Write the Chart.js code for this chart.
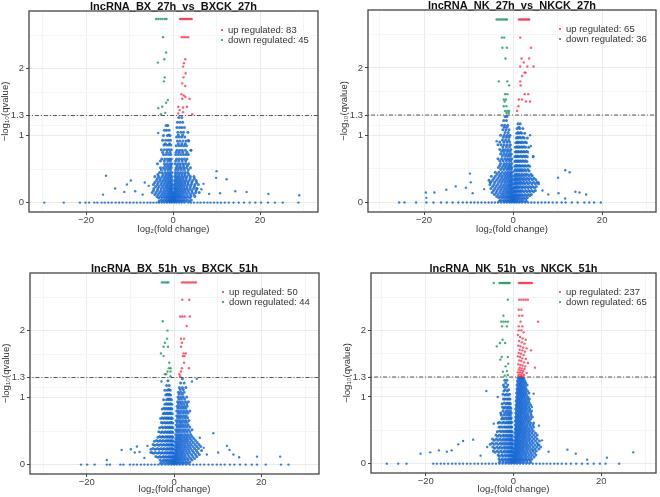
<!DOCTYPE html>
<html>
<head>
<meta charset="utf-8">
<script src="https://cdn.jsdelivr.net/npm/chart.js@4/dist/chart.umd.min.js"></script>
<style>
  body { margin: 0; background: #fff; width: 660px; height: 497px; position: relative; overflow: hidden; }
  .box { position: absolute; width: 330px; height: 248px; }
</style>
</head>
<body>
<div class="box" style="left:0;top:0"><canvas id="c1" width="330" height="248"></canvas></div>
<div class="box" style="left:330px;top:0"><canvas id="c2" width="330" height="248"></canvas></div>
<div class="box" style="left:0;top:250px"><canvas id="c3" width="330" height="248"></canvas></div>
<div class="box" style="left:330px;top:250px"><canvas id="c4" width="330" height="248"></canvas></div>
<script>
// titles, counts, tick labels
const titles = ['lncRNA_BX_27h_vs_BXCK_27h', 'lncRNA_NK_27h_vs_NKCK_27h', 'lncRNA_BX_51h_vs_BXCK_51h', 'lncRNA_NK_51h_vs_NKCK_51h'];
const upCounts = [83, 65, 50, 237];
const downCounts = [45, 36, 44, 65];
const yTicks = [0, 1, 1.3, 2];
const xTicks = [-20, 0, 20];
const qCut = 1.3;

// ---- BX 27h ----  (pairs x,y)
const bx27Up = [1.6,2.74, 1.9,2.74, 2.2,2.74, 2.5,2.74, 2.8,2.74, 3.1,2.74, 3.4,2.74, 3.7,2.74, 4.0,2.74, 4.3,2.74,
  2.0,2.47, 2.5,2.47, 3.0,2.47, 3.5,2.47, 2.8,2.14, 2.5,2.08, 2.3,2.03, 2.9,1.93, 2.4,1.87, 2.1,1.78, 2.8,1.74,
  1.9,1.62, 2.4,1.6, 2.1,1.55, 2.8,1.58, 3.8,1.55, 1.2,1.43, 2.3,1.42, 3.2,1.43, 1.5,1.38, 2.3,1.35, 4.4,1.32, 1.2,1.33];
const bx27Down = [-3.9,2.74, -3.4,2.74, -2.9,2.74, -2.4,2.74, -1.9,2.74, -1.5,2.74, -2.3,2.47, -1.6,2.24, -2.0,2.14,
  -3.5,2.09, -1.9,1.87, -2.1,1.81, -1.2,1.53, -1.6,1.49, -2.5,1.43, -3.4,1.41, -1.8,1.34, -2.8,1.32];
// rows of non-significant points: [y, [x...]]
const bx27Rows = [
  [1.27,[1.3,2.0]], [1.2,[1.0,1.6,2.2]], [1.12,[0.9,1.5,2.0,2.6]], [1.05,[1.1,1.8,2.4,3.4]], [0.98,[0.8,1.4,2.0,2.7]],
  [0.92,[1.0,1.6,2.3,3.0,3.6]], [0.85,[0.7,1.3,1.9,2.5,3.1]], [0.78,[0.9,1.5,2.1,2.8,4.1]], [0.72,[0.6,1.2,1.8,2.4,3.0,3.5]],
  [0.65,[0.8,1.4,2.0,2.6,3.2]], [0.58,[0.5,1.1,1.7,2.3,2.9,3.6]], [0.52,[0.7,1.3,1.9,2.5,3.1,4.0]], [0.45,[0.5,1.0,1.6,2.2,2.8,3.4]],
  [0.39,[0.4,0.9,1.4,2.0,2.6,3.2,4.0,4.8]], [0.33,[0.4,0.8,1.3,1.8,2.4,3.0,3.7,4.5,5.3]], [0.27,[0.3,0.7,1.2,1.7,2.2,2.8,3.5,4.2,5.0,5.8]],
  [0.21,[0.3,0.6,1.0,1.5,2.0,2.6,3.2,3.9,4.7,5.5]], [0.15,[0.2,0.5,0.9,1.3,1.8,2.3,2.9,3.6,4.4,5.2,6.0]],
  [0.09,[0.2,0.4,0.8,1.2,1.6,2.1,2.7,3.4,4.1,5.0]], [0.04,[0.1,0.3,0.6,1.0,1.5,2.0,2.6,3.3,4.2]],
  [1.15,[-1.2,-1.6]], [1.08,[-0.9,-1.5,-2.0]], [1.0,[-0.7,-1.3,-2.2]], [0.93,[-0.6,-1.1,-1.7,-2.4]], [0.86,[-0.5,-1.0,-1.5,-2.1]],
  [0.79,[-0.4,-0.9,-1.4,-2.0,-2.7]], [0.72,[-0.5,-1.0,-1.6,-2.2]], [0.65,[-0.4,-0.8,-1.3,-1.9,-2.6]], [0.58,[-0.3,-0.8,-1.4,-2.0,-3.6]],
  [0.52,[-0.4,-0.9,-1.5,-2.2,-2.9]], [0.45,[-0.3,-0.7,-1.2,-1.8,-2.5,-3.1]], [0.39,[-0.3,-0.7,-1.2,-1.8,-2.5,-3.3,-4.2]],
  [0.33,[-0.2,-0.6,-1.1,-1.7,-2.3,-3.0,-3.8]], [0.27,[-0.2,-0.5,-1.0,-1.5,-2.1,-2.8,-3.6,-4.5]], [0.21,[-0.2,-0.5,-0.9,-1.4,-2.0,-2.7,-3.5,-4.4]],
  [0.15,[-0.1,-0.4,-0.8,-1.2,-1.8,-2.4,-3.1,-3.9,-4.8]], [0.09,[-0.1,-0.4,-0.7,-1.1,-1.6,-2.2,-2.9,-3.7]], [0.04,[-0.1,-0.3,-0.6,-1.0,-1.5,-2.1,-2.8]]
];
const bx27Rows2 = [
  [1.01,[1.2,2.2,-1.0]], [0.88,[1.2,2.0,2.8,-0.8,-1.8]], [0.75,[0.7,1.4,2.2,3.2,-0.7,-1.4,-2.4]],
  [0.62,[0.6,1.3,2.1,2.9,-0.6,-1.2,-2.0,-2.9]], [0.55,[0.9,1.6,2.4,3.3,-0.5,-1.1,-1.8]],
  [0.49,[0.6,1.2,1.9,2.6,3.5,-0.6,-1.2,-1.9,-2.7]], [0.42,[0.6,1.3,2.0,2.7,3.6,-0.5,-1.0,-1.6,-2.3,-3.5]],
  [0.36,[0.6,1.1,1.7,2.3,3.0,3.9,4.9,-0.4,-0.9,-1.5,-2.1,-2.9,-3.6]],
  [0.30,[0.5,1.0,1.5,2.1,2.7,3.4,4.3,5.4,-0.4,-0.8,-1.3,-1.9,-2.6,-3.4,-4.2]],
  [0.24,[0.4,0.9,1.4,1.9,2.5,3.2,4.0,4.9,-0.3,-0.7,-1.2,-1.7,-2.4,-3.2,-4.0]],
  [0.18,[0.4,0.8,1.2,1.7,2.2,2.8,3.5,4.3,5.3,-0.3,-0.6,-1.0,-1.5,-2.1,-2.8,-3.6,-4.5]],
  [0.12,[0.3,0.6,1.0,1.4,1.9,2.5,3.2,4.0,4.8,-0.2,-0.5,-0.9,-1.4,-2.0,-2.6,-3.4,-4.2]],
  [0.07,[0.2,0.5,0.8,1.3,1.8,2.4,3.0,3.8,-0.2,-0.5,-0.9,-1.3,-1.8,-2.5,-3.3]],
  [0.02,[0,0.2,0.4,0.8,1.2,1.7,2.3,3.0,3.8,-0.2,-0.4,-0.8,-1.2,-1.7,-2.4,-3.2]]
];
const bx27Out = [-15.4,0.4, -9.7,0.33, -10.6,0.27, -16.1,0.12, -13.3,0.21, -8.7,0.17, -11.2,0.16, 10,0.47, 12.3,0.35, 14.3,0.17,
  16.9,0.16, 10.8,0.14, 8.3,0.13, 21.9,0.13, 29.0,0.11, 5.4,0.21, -3.4,1.04, 3.5,0.93, 4.1,0.78, -6.5,0.3, -5.6,0.25, 6.5,0.2,
  7.0,0.28, -7.0,0.12, 9.9,0.37];
const bx27Zero = [-29.6,-25.1,-21.4,-20.1,-19.3,-18.1,-17.4,-16.4,-15.7,-14.9,-14.1,-13.2,-12.4,-11.6,-10.7,-9.9,-9.1,-8.3,-7.5,-6.7,
  -5.9,-5.2,-4.5,-3.8,-3.2,-2.6,-2.0,-1.4,-0.8,-0.3,0.3,0.8,1.4,2.0,2.6,3.5,4.1,4.8,5.6,6.3,7.1,7.9,8.6,9.4,10.2,11.0,11.9,12.8,
  13.9,15.1,16.3,17.6,18.9,20.2,21.8,23.4,25.2,28.8];

// ---- NK 27h ----
const nk27Up = [1.3,2.72, 1.6,2.72, 1.9,2.72, 2.2,2.72, 2.5,2.72, 2.8,2.72, 3.1,2.72, 3.4,2.72, 3.6,2.72, 1.6,2.45, 4.0,2.3,
  1.9,2.14, 3.6,2.14, 2.4,2.08, 1.6,2.02, 3.2,2.02, 4.6,2.02, 2.6,1.93, 2.8,1.93, 2.0,1.88, 1.6,1.8, 1.7,1.74, 2.6,1.61,
  3.4,1.61, 1.3,1.53, 2.0,1.53, 2.9,1.5, 3.8,1.5, 1.2,1.43, 0.9,1.36];
const nk27Down = [-3.7,2.72, -3.3,2.72, -2.9,2.72, -2.5,2.72, -2.1,2.72, -1.7,2.72, -1.4,2.72, -2.5,2.45, -2.0,2.45, -2.4,2.3,
  -1.4,2.3, -1.7,2.14, -3.2,1.8, -1.3,1.8, -0.9,1.74, -1.8,1.61, -1.3,1.61, -2.1,1.53, -1.6,1.53, -1.9,1.5, -2.1,1.43, -1.5,1.43,
  -1.8,1.36, -1.3,1.36, -0.9,1.36, -1.5,1.33, -1.0,1.33];
const nk27Rows = [
  [1.28,[-1.8,-1.4]], [1.22,[-2.1,-1.5]], [1.15,[-1.9,-1.2,-2.5]], [1.08,[-1.6,-0.9,-2.3]], [1.0,[-1.3,-2.0,-0.7,-2.8]],
  [0.93,[-1.0,-1.7,-2.4]], [0.86,[-0.6,-1.3,-2.0,-2.7,-3.4]], [0.79,[-0.5,-1.1,-1.7,-2.3,-3.0]], [0.72,[-0.4,-0.9,-1.5,-2.1,-2.8]],
  [0.65,[-0.3,-0.8,-1.3,-1.9,-2.6,-3.4]], [0.58,[-0.3,-0.8,-1.4,-2.0,-2.8]], [0.52,[-0.3,-0.7,-1.2,-1.8,-2.5,-3.3]],
  [0.45,[-0.2,-0.6,-1.1,-1.7,-2.4,-3.2,-4.0]], [0.39,[-0.2,-0.6,-1.1,-1.7,-2.4,-3.1,-4.0,-4.9]], [0.33,[-0.2,-0.5,-1.0,-1.6,-2.2,-2.9,-3.7,-4.6,-5.4]],
  [0.27,[-0.2,-0.5,-0.9,-1.4,-2.0,-2.7,-3.5,-4.3,-5.2]], [0.21,[-0.1,-0.4,-0.8,-1.3,-1.9,-2.6,-3.3,-4.1,-5.0]],
  [0.15,[-0.1,-0.4,-0.8,-1.2,-1.7,-2.3,-3.0,-3.8,-4.7]], [0.09,[-0.1,-0.3,-0.7,-1.1,-1.6,-2.2,-2.9,-3.7]], [0.04,[-0.1,-0.3,-0.6,-1.0,-1.5,-2.1,-2.8]],
  [1.17,[1.6,1.1]], [1.1,[0.9,1.5,2.2]], [1.03,[0.8,1.3,1.9,2.6]], [0.96,[0.7,1.2,1.8,2.5,3.2]], [0.89,[0.6,1.1,1.7,2.3,3.0]],
  [0.82,[0.5,1.0,1.5,2.1,2.8,3.5]], [0.75,[0.5,1.0,1.5,2.0,2.6,3.3]], [0.68,[0.4,0.9,1.4,2.0,2.6,3.2,4.5]], [0.61,[0.4,0.9,1.4,1.9,2.5,3.1]],
  [0.54,[0.4,0.8,1.3,1.8,2.4,3.0,3.7]], [0.47,[0.3,0.8,1.3,1.8,2.3,2.9,3.6]], [0.40,[0.3,0.7,1.2,1.7,2.3,2.9,3.6,4.3]],
  [0.34,[0.3,0.7,1.1,1.6,2.2,2.8,3.5,4.3,5.1]], [0.28,[0.2,0.6,1.0,1.5,2.1,2.7,3.4,4.2,5.0,5.7]], [0.22,[0.2,0.5,0.9,1.4,2.0,2.6,3.3,4.0,4.8]],
  [0.16,[0.2,0.5,0.9,1.3,1.8,2.4,3.1,3.8,4.6]], [0.10,[0.1,0.4,0.8,1.2,1.7,2.3,3.0,3.7]], [0.05,[0.1,0.3,0.6,1.0,1.5,2.1,2.8]]
];
const nk27Rows2 = [
  [1.12,[-1.4,-2.0,1.3]], [1.04,[-1.1,-1.8,1.1,1.7]], [0.97,[-0.9,-1.5,-2.2,1.0,1.5,2.2]],
  [0.90,[-0.8,-1.4,-2.1,-3.0,0.9,1.4,2.0,2.7]], [0.83,[-0.8,-1.5,-2.3,0.8,1.3,1.9,2.5]],
  [0.76,[-0.7,-1.3,-2.0,-2.6,0.7,1.2,1.8,2.4,3.0]], [0.69,[-0.6,-1.1,-1.7,-2.4,0.6,1.1,1.7,2.3,2.9]],
  [0.62,[-0.5,-1.0,-1.6,-2.3,-3.0,0.6,1.1,1.6,2.2,2.8]], [0.55,[-0.5,-1.0,-1.6,-2.2,-3.0,0.6,1.0,1.5,2.1,2.7,3.4]],
  [0.49,[-0.4,-0.9,-1.4,-2.1,-2.8,0.5,1.0,1.5,2.0,2.6,3.3]], [0.42,[-0.4,-0.8,-1.4,-2.0,-2.8,-3.6,0.5,0.9,1.4,2.0,2.6,3.2,4.0]],
  [0.36,[-0.3,-0.8,-1.3,-1.9,-2.6,-3.4,-4.3,0.4,0.9,1.4,1.9,2.5,3.2,3.9,4.7]],
  [0.30,[-0.3,-0.7,-1.2,-1.8,-2.5,-3.2,-4.1,-5.0,0.4,0.8,1.3,1.8,2.4,3.1,3.8,4.6,5.4]],
  [0.24,[-0.3,-0.7,-1.1,-1.7,-2.3,-3.0,-3.8,-4.6,0.4,0.8,1.2,1.7,2.3,3.0,3.7,4.4,5.2]],
  [0.18,[-0.2,-0.6,-1.0,-1.5,-2.1,-2.8,-3.6,-4.4,0.3,0.7,1.1,1.6,2.1,2.8,3.5,4.2,5.0]],
  [0.12,[-0.2,-0.5,-0.9,-1.4,-2.0,-2.6,-3.4,-4.2,0.3,0.6,1.0,1.5,2.0,2.7,3.4,4.1]],
  [0.07,[-0.2,-0.5,-0.9,-1.3,-1.9,-2.5,-3.2,0.2,0.5,0.9,1.3,1.9,2.5,3.2]],
  [0.02,[-0.2,-0.4,-0.8,-1.2,-1.7,-2.3,-3.1,0,0.2,0.4,0.8,1.2,1.7,2.3,3.0]]
];
const nk27Out = [-3.7,0.91, 4.5,0.69, 4.0,0.84, -5.2,0.3, 5.7,0.3, -9.7,0.43, -9.5,0.3, -10.6,0.22, -12.9,0.24, -15.0,0.19,
  -17.7,0.15, -19.6,0.15, -19.5,0.07, -9.1,0.14, 11.7,0.48, 12.7,0.45, 10.1,0.37, 7.9,0.12, 10.2,0.14, 14.0,0.16, 14.9,0.15,
  16.4,0.12, 11.7,0.06, -6.5,0.2, 6.6,0.18, 3.8,1.0];
const nk27Zero = [-25.6,-24.4,-21.8,-19.5,-17.9,-16.2,-14.9,-13.6,-12.3,-11.3,-10.4,-9.5,-8.7,-7.9,-7.1,-6.3,-5.5,-4.8,-4.1,-3.4,
  -2.7,-2.0,-1.4,-0.8,-0.3,0.3,0.8,1.4,2.0,2.7,3.4,4.1,4.8,5.6,6.4,7.2,8.0,8.9,9.8,10.9,11.8,13.2,14.5,16.0,17.1,18.2,19.7];

// ---- BX 51h ----
const bx51Up = [1.8,2.72, 2.2,2.72, 2.6,2.72, 3.0,2.72, 3.4,2.72, 3.8,2.72, 4.2,2.72, 4.6,2.72, 5.0,2.72, 1.9,2.46, 3.5,2.46,
  1.4,2.21, 1.9,2.21, 2.4,2.21, 3.6,2.21, 2.9,2.07, 1.6,1.88, 2.3,1.88, 1.8,1.82, 1.6,1.76, 2.2,1.66, 2.7,1.66, 2.0,1.62,
  2.4,1.62, 2.3,1.52, 1.8,1.44, 3.4,1.44, 1.6,1.39, 1.2,1.35, 1.4,1.32];
const bx51Down = [-2.8,2.72, -2.4,2.72, -2.0,2.72, -1.6,2.72, -1.3,2.72, -2.6,2.14, -1.5,2.0, -1.6,1.88, -2.1,1.82, -2.4,1.76,
  -1.4,1.76, -3.0,1.66, -2.4,1.62, -1.1,1.52, -1.2,1.44, -0.8,1.44, -1.5,1.39, -0.8,1.39, -2.1,1.35, -1.8,1.35, -0.8,1.32];
const bx51Rows = [
  [1.28,[1.9]], [1.22,[1.5,2.3]], [1.15,[1.2,1.9,2.7]], [1.08,[1.0,1.6,2.3]], [1.01,[0.9,1.5,2.1,2.9]], [0.94,[0.8,1.3,1.9,2.6,3.3]],
  [0.87,[0.7,1.2,1.8,2.4,3.0]], [0.80,[0.6,1.1,1.7,2.3,2.9,3.6]], [0.73,[0.6,1.1,1.6,2.2,2.8]], [0.66,[0.5,1.0,1.5,2.1,2.7,3.4]],
  [0.59,[0.5,1.0,1.5,2.0,2.6,3.2]], [0.52,[0.4,0.9,1.4,2.0,2.6,3.3,4.1]], [0.45,[0.4,0.9,1.4,1.9,2.5,3.1,3.8]],
  [0.39,[0.4,0.8,1.3,1.8,2.4,3.0,3.7,4.5]], [0.33,[0.3,0.7,1.2,1.7,2.3,2.9,3.6,4.4,5.3]], [0.27,[0.3,0.7,1.1,1.6,2.2,2.8,3.5,4.3,5.2,6.1]],
  [0.21,[0.3,0.6,1.0,1.5,2.1,2.7,3.4,4.2,5.1,6.3]], [0.15,[0.2,0.5,0.9,1.4,1.9,2.5,3.2,4.0,4.9,5.8]],
  [0.09,[0.2,0.4,0.8,1.2,1.7,2.3,3.0,3.8,4.7]], [0.04,[0.1,0.3,0.6,1.0,1.5,2.1,2.8,3.6]],
  [1.25,[-1.4]], [1.18,[-1.1,-1.7]], [1.11,[-0.9,-1.5,-2.1]], [1.04,[-0.8,-1.3,-1.9]], [0.97,[-0.6,-1.1,-1.7,-2.4]],
  [0.90,[-0.5,-1.0,-1.5,-2.1]], [0.83,[-0.5,-0.9,-1.4,-2.0,-2.7]], [0.76,[-0.4,-0.9,-1.4,-1.9,-2.5]], [0.69,[-0.4,-0.8,-1.3,-1.8,-2.4,-3.1]],
  [0.62,[-0.3,-0.8,-1.3,-1.9,-2.6]], [0.55,[-0.3,-0.7,-1.2,-1.8,-2.5,-3.3]], [0.48,[-0.3,-0.7,-1.2,-1.7,-2.3,-3.0]],
  [0.41,[-0.3,-0.6,-1.1,-1.6,-2.2,-2.9,-3.7]], [0.35,[-0.2,-0.6,-1.0,-1.5,-2.1,-2.8,-3.6,-4.5]], [0.29,[-0.2,-0.5,-0.9,-1.4,-2.0,-2.7,-3.5,-4.4]],
  [0.23,[-0.2,-0.5,-0.9,-1.4,-1.9,-2.6,-3.4,-4.3,-5.3]], [0.17,[-0.1,-0.4,-0.8,-1.2,-1.7,-2.3,-3.0,-3.8,-4.7]],
  [0.11,[-0.1,-0.4,-0.7,-1.1,-1.6,-2.2,-2.9,-3.7]], [0.05,[-0.1,-0.3,-0.6,-1.0,-1.5,-2.1,-2.8]]
];
const bx51Rows2 = [
  [1.12,[1.4,2.1,-1.2]], [1.05,[1.2,1.9,-1.1,-1.6]], [0.98,[1.1,1.7,2.4,-0.9,-1.4]], [0.91,[1.0,1.6,2.2,2.9,-0.8,-1.3,-1.8]],
  [0.84,[0.9,1.5,2.1,2.7,-0.7,-1.2,-1.7,-2.3]], [0.77,[0.9,1.4,2.0,2.6,3.2,-0.7,-1.1,-1.6,-2.2]],
  [0.70,[0.8,1.3,1.9,2.5,3.1,-0.6,-1.1,-1.6,-2.1,-2.7]], [0.63,[0.7,1.3,1.8,2.4,3.0,-0.6,-1.0,-1.6,-2.2,-2.9]],
  [0.56,[0.7,1.2,1.7,2.3,2.9,3.6,-0.5,-1.0,-1.5,-2.1,-2.8]], [0.49,[0.6,1.1,1.7,2.3,2.9,3.6,-0.5,-0.9,-1.4,-2.0,-2.7,-3.5]],
  [0.42,[0.6,1.1,1.6,2.2,2.8,3.4,4.1,-0.4,-0.9,-1.4,-1.9,-2.6,-3.3]],
  [0.36,[0.5,1.0,1.5,2.0,2.6,3.2,4.0,4.9,-0.4,-0.8,-1.3,-1.8,-2.5,-3.2,-4.0]],
  [0.30,[0.5,0.9,1.4,1.9,2.5,3.2,3.9,4.8,5.7,-0.4,-0.7,-1.2,-1.7,-2.4,-3.1,-3.9,-4.8]],
  [0.24,[0.4,0.8,1.3,1.8,2.4,3.1,3.8,4.7,5.6,-0.3,-0.7,-1.1,-1.6,-2.3,-3.0,-3.8,-4.8]],
  [0.18,[0.4,0.7,1.2,1.7,2.2,2.9,3.6,4.5,5.4,-0.3,-0.6,-1.0,-1.5,-2.0,-2.7,-3.4,-4.3,-5.1]],
  [0.12,[0.3,0.6,1.0,1.5,2.0,2.6,3.4,4.3,5.2,-0.2,-0.5,-0.9,-1.3,-1.9,-2.5,-3.3,-4.2]],
  [0.07,[0.2,0.5,0.9,1.3,1.9,2.5,3.2,4.1,-0.2,-0.5,-0.8,-1.3,-1.8,-2.4,-3.2]],
  [0.02,[0,0.2,0.4,0.8,1.2,1.8,2.4,3.2,-0.2,-0.4,-0.8,-1.2,-1.7,-2.4,-3.1]]
];
const bx51Out = [5.2,1.28, 4.1,1.24, -2.9,1.24, 9.0,0.47, 12.1,0.28, 12.7,0.22, 10.1,0.18, 13.6,0.15, 14.9,0.11, 19.0,0.12,
  24.3,0.12, -12.0,0.22, -9.9,0.23, -9.0,0.18, -15.4,0.07, -7.9,0.19, -6.1,0.28, -8.5,0.27, -6.8,0.1, -5.4,0.18, 6.8,0.25,
  7.5,0.15, 5.9,0.4];
const bx51Zero = [-21.3,-19.9,-18.2,-15.4,-14.7,-12.3,-11.6,-10.1,-9.3,-8.5,-7.6,-6.8,-6.0,-5.2,-4.4,-3.6,-2.8,-2.0,-1.3,-0.6,0,
  0.6,1.3,2.0,2.8,3.6,4.4,5.2,6.0,6.9,7.9,8.8,9.8,10.7,11.6,12.8,13.8,15.1,16.4,17.8,19.0,21.0,24.5,26.2];

// ---- NK 51h ----
const nk51Up = [1.2,2.71, 1.5,2.71, 1.8,2.71, 2.1,2.71, 2.4,2.71, 2.7,2.71, 3.0,2.71, 3.3,2.71, 3.6,2.71, 3.9,2.71, 4.2,2.71,
  1.3,2.46, 1.8,2.46, 2.3,2.46, 2.8,2.46, 3.3,2.46, 1.2,2.31, 1.8,2.31, 1.3,2.22, 2.0,2.22, 1.6,2.13, 5.6,2.13, 1.2,2.06, 2.0,2.06,
  1.2,2.0, 1.8,2.0, 2.3,1.97, 1.0,1.93, 1.5,1.9, 2.1,1.88, 2.8,1.86, 1.3,1.84, 1.9,1.82, 2.5,1.8, 1.1,1.77, 1.6,1.76, 2.2,1.74,
  3.0,1.73, 1.4,1.71, 2.0,1.7, 4.0,1.7, 2.6,1.68, 1.2,1.66, 1.7,1.65, 2.3,1.63, 1.0,1.61, 1.5,1.6, 2.0,1.58, 2.8,1.57, 1.3,1.55,
  1.8,1.54, 2.4,1.52, 3.3,1.51, 1.1,1.49, 1.6,1.48, 2.1,1.47, 2.7,1.46, 1.4,1.44, 1.9,1.43, 4.9,1.44, 2.5,1.42, 1.2,1.41,
  1.7,1.4, 2.2,1.39, 1.0,1.37, 1.5,1.37, 2.0,1.36, 3.0,1.36, 1.3,1.34, 1.8,1.33, 2.4,1.33, 1.1,1.32, 1.6,1.31, 2.1,1.31];
const nk51Down = [-4.5,2.71, -3.2,2.71, -2.9,2.71, -2.6,2.71, -2.3,2.71, -2.0,2.71, -1.7,2.71, -1.4,2.71, -1.1,2.71, -0.9,2.71,
  -1.3,2.46, -2.3,2.22, -2.8,2.13, -2.3,2.13, -1.8,2.13, -1.3,2.13, -2.6,2.06, -1.5,2.06, -2.5,1.86, -3.1,1.81, -1.9,1.81,
  -3.8,1.76, -2.7,1.6, -1.3,1.6, -3.0,1.56, -1.2,1.5, -1.8,1.46, -1.5,1.39, -2.4,1.38, -1.3,1.33, -2.0,1.32];
const nk51Rows = [
  [1.29,[1.0,1.4,1.8,2.2]], [1.24,[0.9,1.3,1.7,2.1,2.6]], [1.18,[0.8,1.2,1.6,2.0,2.5,3.1]], [1.12,[0.8,1.1,1.5,1.9,2.4,2.9]],
  [1.06,[0.7,1.1,1.5,1.9,2.3,2.8,3.5]], [1.0,[0.7,1.0,1.4,1.8,2.2,2.7,3.3]], [0.94,[0.6,1.0,1.4,1.8,2.3,2.8,3.4]],
  [0.88,[0.6,0.9,1.3,1.7,2.2,2.7,3.2,3.9]], [0.82,[0.5,0.9,1.3,1.7,2.1,2.6,3.1,3.7]], [0.76,[0.5,0.9,1.3,1.7,2.1,2.6,3.2,3.9]],
  [0.70,[0.5,0.8,1.2,1.6,2.0,2.5,3.0,3.6,4.3]], [0.64,[0.4,0.8,1.2,1.6,2.0,2.5,3.0,3.6]], [0.58,[0.4,0.8,1.2,1.6,2.0,2.5,3.1,3.7,4.4]],
  [0.52,[0.4,0.7,1.1,1.5,1.9,2.4,2.9,3.5,4.2]], [0.46,[0.3,0.7,1.1,1.5,1.9,2.4,2.9,3.5,4.2,5.0]], [0.40,[0.3,0.7,1.0,1.4,1.9,2.4,2.9,3.5,4.2,5.0]],
  [0.34,[0.3,0.6,1.0,1.4,1.8,2.3,2.9,3.5,4.2,5.0,5.9]], [0.28,[0.3,0.6,0.9,1.3,1.8,2.3,2.8,3.4,4.1,4.9,5.8]],
  [0.22,[0.2,0.5,0.9,1.3,1.7,2.2,2.8,3.4,4.1,4.9,5.8]], [0.16,[0.2,0.5,0.8,1.2,1.6,2.1,2.7,3.3,4.0,4.8]],
  [0.10,[0.2,0.4,0.7,1.1,1.5,2.0,2.6,3.2,3.9,4.7]], [0.05,[0.1,0.3,0.6,1.0,1.4,1.9,2.5,3.1,3.8]],
  [1.25,[-2.0,-1.5]], [1.18,[-2.3,-1.3]], [1.11,[-1.9,-1.1]], [1.04,[-1.6,-0.9,-2.4]], [0.97,[-1.3,-0.8,-2.0]], [0.90,[-1.1,-0.7,-1.7,-2.6]],
  [0.83,[-1.0,-0.6,-1.5,-2.2]], [0.76,[-0.9,-0.5,-1.4,-2.0,-2.9]], [0.69,[-0.8,-0.5,-1.2,-1.8,-2.5]], [0.62,[-0.7,-0.4,-1.1,-1.6,-2.3,-3.2]],
  [0.55,[-0.7,-0.4,-1.1,-1.6,-2.2,-3.0]], [0.48,[-0.6,-0.3,-1.0,-1.5,-2.1,-2.8,-3.7]], [0.41,[-0.6,-0.3,-1.0,-1.5,-2.1,-2.8,-3.6]],
  [0.35,[-0.5,-0.2,-0.9,-1.4,-2.0,-2.7,-3.5,-4.4]], [0.29,[-0.5,-0.2,-0.9,-1.4,-2.0,-2.7,-3.5,-4.4,-5.3]],
  [0.23,[-0.4,-0.2,-0.8,-1.3,-1.9,-2.6,-3.4,-4.3]], [0.17,[-0.4,-0.1,-0.8,-1.2,-1.8,-2.5,-3.3,-4.2]],
  [0.11,[-0.3,-0.1,-0.7,-1.1,-1.7,-2.4,-3.2]], [0.05,[-0.3,-0.1,-0.6,-1.0,-1.6,-2.3,-3.0]]
];
const nk51Rows2 = [
  [1.27,[1.2,1.6,2.0,2.4]], [1.21,[1.0,1.4,1.8,2.3,2.8,-1.8]], [1.15,[1.0,1.4,1.8,2.2,2.7,-1.6,-2.1]],
  [1.09,[0.9,1.3,1.7,2.1,2.6,3.2,-1.4,-2.2]], [1.03,[0.9,1.3,1.7,2.1,2.5,3.0,-1.2,-1.9]],
  [0.97,[0.8,1.2,1.6,2.0,2.5,3.0,3.6,-1.0,-1.6,-2.3]], [0.91,[0.8,1.2,1.6,2.0,2.5,3.0,3.6,-0.9,-1.4,-2.1]],
  [0.85,[0.7,1.1,1.5,1.9,2.4,2.9,3.5,-0.8,-1.3,-1.9,-2.5]], [0.79,[0.7,1.1,1.5,1.9,2.4,2.9,3.5,4.1,-0.7,-1.2,-1.7,-2.4]],
  [0.73,[0.7,1.0,1.4,1.8,2.3,2.8,3.3,4.0,-0.7,-1.1,-1.6,-2.2,-2.8]], [0.67,[0.6,1.0,1.4,1.8,2.3,2.8,3.3,3.9,-0.6,-1.0,-1.5,-2.1,-2.7]],
  [0.61,[0.6,1.0,1.4,1.8,2.2,2.7,3.3,3.9,4.6,-0.6,-1.0,-1.4,-2.0,-2.7,-3.5]],
  [0.55,[0.6,0.9,1.3,1.7,2.2,2.7,3.2,3.9,4.6,-0.5,-0.9,-1.4,-1.9,-2.6,-3.3]],
  [0.49,[0.5,0.9,1.3,1.7,2.2,2.7,3.2,3.8,4.5,-0.5,-0.9,-1.3,-1.8,-2.5,-3.2]],
  [0.43,[0.5,0.9,1.2,1.6,2.1,2.6,3.2,3.8,4.6,5.4,-0.4,-0.8,-1.3,-1.8,-2.4,-3.2,-4.0]],
  [0.37,[0.5,0.8,1.2,1.6,2.1,2.6,3.2,3.8,4.6,5.4,-0.4,-0.7,-1.2,-1.7,-2.3,-3.1,-3.9,-4.8]],
  [0.31,[0.4,0.8,1.1,1.5,2.0,2.5,3.1,3.8,4.5,5.4,-0.3,-0.7,-1.1,-1.7,-2.3,-3.0,-3.9,-4.8]],
  [0.25,[0.4,0.7,1.1,1.5,2.0,2.5,3.1,3.7,4.5,5.3,6.2,-0.3,-0.6,-1.1,-1.6,-2.2,-3.0,-3.8,-4.7]],
  [0.19,[0.3,0.7,1.0,1.4,1.9,2.4,3.0,3.7,4.4,5.2,-0.3,-0.6,-1.0,-1.5,-2.1,-2.9,-3.7,-4.6]],
  [0.13,[0.3,0.6,0.9,1.3,1.8,2.3,2.9,3.6,4.3,5.1,-0.2,-0.5,-0.9,-1.4,-2.0,-2.7,-3.5]],
  [0.07,[0.2,0.5,0.8,1.2,1.7,2.2,2.8,3.5,4.2,-0.2,-0.5,-0.8,-1.3,-1.9,-2.6,-3.3]],
  [0.02,[0,0.2,0.5,0.9,1.3,1.8,2.4,3.1,3.9,-0.2,-0.4,-0.7,-1.2,-1.7,-2.4,-3.2]]
];
const nk51Out = [-6.2,1.09, 5.8,0.57, -9.2,0.36, -11.5,0.34, -12.6,0.29, -14.1,0.2, -15.2,0.18, -17.0,0.2, -21.2,0.15, -19.0,0.17,
  8.0,0.18, 12.3,0.21, 14.2,0.15, 16.8,0.06, 21.3,0.09, 27.3,0.17, 5.6,0.28, 4.5,0.2, 4.6,1.05, 4.2,0.85, -3.6,1.0, -4.5,0.6,
  6.5,0.35, -6.0,0.25, -7.5,0.12];
const nk51Zero = [-28.9,-26.3,-24.4,-18.3,-17.5,-16.6,-15.8,-14.9,-14.0,-13.2,-12.3,-11.5,-10.6,-9.8,-8.9,-8.1,-7.2,-6.4,-5.6,-4.8,
  -4.0,-3.2,-2.5,-1.8,-1.1,-0.5,0.2,0.8,1.5,2.2,2.9,3.6,4.4,5.2,6.0,6.8,7.6,8.4,9.3,10.1,11.0,12.0,13.1,14.3,15.6,16.9,18.3,19.7,21.0,24.1];

const RED = 'rgba(255,35,65,0.75)';
const GREEN = 'rgba(25,150,95,0.8)';
const BLUE = 'rgba(22,104,212,0.85)';
const FONT = '"Liberation Sans", Arial, sans-serif';

function pairs(a) {
  const p = [];
  for (let i = 0; i < a.length; i += 2) p.push({x: a[i], y: a[i + 1]});
  return p;
}
function rowPts(rows) {
  return rows.flatMap(r => r[1].map(x => ({x: x, y: r[0]})));
}

// draws the panel frame, title and legend
const frame = {
  id: 'frame',
  afterDraw(chart, args, o) {
    const ctx = chart.ctx, a = chart.chartArea;
    ctx.save();
    ctx.strokeStyle = '#444';
    ctx.lineWidth = 1.3;
    ctx.strokeRect(a.left, a.top, a.right - a.left, a.bottom - a.top);
    ctx.fillStyle = '#111';
    ctx.font = 'bold 11px ' + FONT;
    ctx.textAlign = 'center';
    ctx.textBaseline = 'middle';
    ctx.fillText(o.title, (a.left + a.right) / 2, a.top - 4.5);
    ctx.font = '9.5px ' + FONT;
    ctx.textAlign = 'left';
    ctx.fillStyle = '#333';
    const lx = a.right - 90, ly = a.top + 19;
    ctx.fillText('up regulated: ' + o.up, lx, ly);
    ctx.fillText('down regulated: ' + o.down, lx, ly + 10);
    ctx.fillStyle = RED;
    ctx.fillRect(lx - 7, ly - 1, 2, 2);
    ctx.fillStyle = GREEN;
    ctx.fillRect(lx - 7, ly + 9, 2, 2);
    ctx.restore();
  }
};

const panels = [
  {id: 'c1', up: bx27Up, down: bx27Down, rows: bx27Rows, rows2: bx27Rows2, out: bx27Out, zero: bx27Zero, xMin: -33.1, xMax: 33.3, L: 29, R: 318, T: 11, B: 212, tp: 13},
  {id: 'c2', up: nk27Up, down: nk27Down, rows: nk27Rows, rows2: nk27Rows2, out: nk27Out, zero: nk27Zero, xMin: -32.6, xMax: 32.1, L: 38, R: 326, T: 10, B: 212, tp: 13},
  {id: 'c3', up: bx51Up, down: bx51Down, rows: bx51Rows, rows2: bx51Rows2, out: bx51Out, zero: bx51Zero, xMin: -33.0, xMax: 33.2, L: 30, R: 319, T: 23, B: 224, tp: 3},
  {id: 'c4', up: nk51Up, down: nk51Down, rows: nk51Rows, rows2: nk51Rows2, out: nk51Out, zero: nk51Zero, xMin: -32.5, xMax: 32.5, L: 41, R: 327, T: 23, B: 223, tp: 3}
];

const xGrid = [-30, -20, -10, 0, 10, 20, 30];
const yGrid = [0, 0.5, 1, 1.15, 1.3, 1.65, 2, 2.5];

panels.forEach((p, i) => {
  new Chart(document.getElementById(p.id), {
    type: 'scatter',
    data: {
      datasets: [
        {data: pairs(p.up), backgroundColor: RED, pointRadius: 1.2, borderWidth: 0},
        {data: pairs(p.down), backgroundColor: GREEN, pointRadius: 1.2, borderWidth: 0},
        {type: 'line', data: [{x: -40, y: qCut}, {x: 40, y: qCut}], borderColor: '#555', borderWidth: 1,
         borderDash: [4, 2, 1, 2], pointRadius: 0, fill: false},
        {data: p.zero.map(x => ({x: x, y: 0})), backgroundColor: BLUE, pointRadius: 1.2, borderWidth: 0},
        {data: pairs(p.out), backgroundColor: BLUE, pointRadius: 1.2, borderWidth: 0},
        {data: rowPts(p.rows).concat(rowPts(p.rows2)), backgroundColor: BLUE, pointRadius: 1.5, borderWidth: 0}
      ]
    },
    options: {
      responsive: false,
      animation: false,
      devicePixelRatio: 1,
      layout: {padding: {left: p.L - 29, right: 330 - p.R, top: p.T, bottom: 0}},
      plugins: {
        legend: {display: false},
        tooltip: {enabled: false},
        frame: {title: titles[i], up: upCounts[i], down: downCounts[i]}
      },
      scales: {
        x: {
          type: 'linear', min: p.xMin, max: p.xMax,
          afterBuildTicks: s => { s.ticks = xGrid.map(v => ({value: v})); },
          afterFit: s => { s.height = 248 - p.B; },
          ticks: {
            autoSkip: false, maxRotation: 0, padding: 0, color: '#444', font: {size: 9.5, family: FONT},
            callback: v => xTicks.includes(v) ? (v < 0 ? '\u2212' + (-v) : String(v)) : ''
          },
          grid: {
            tickLength: 3,
            color: c => (c.tick && xTicks.includes(c.tick.value)) ? '#ebebeb' : '#f5f5f5',
            tickColor: c => (c.tick && xTicks.includes(c.tick.value)) ? '#444' : 'rgba(0,0,0,0)'
          },
          border: {display: false},
          title: {display: true, text: 'log\u2082(fold change)', color: '#333', font: {size: 9.5, family: FONT},
                  padding: {top: 0, bottom: p.tp}}
        },
        y: {
          type: 'linear', min: -0.14, max: 2.86,
          afterBuildTicks: s => { s.ticks = yGrid.map(v => ({value: v})); },
          afterFit: s => { s.width = 29; },
          ticks: {
            autoSkip: false, padding: 2, color: '#444', font: {size: 9.5, family: FONT},
            callback: v => yTicks.includes(v) ? String(v) : ''
          },
          grid: {
            tickLength: 3,
            color: c => (c.tick && yTicks.includes(c.tick.value)) ? '#ebebeb' : '#f5f5f5',
            tickColor: c => (c.tick && yTicks.includes(c.tick.value)) ? '#444' : 'rgba(0,0,0,0)'
          },
          border: {display: false},
          title: {display: true, text: '\u2212log\u2081\u2080(qvalue)', color: '#333', font: {size: 9.5, family: FONT},
                  padding: {top: 0, bottom: 0}}
        }
      }
    },
    plugins: [frame]
  });
});
</script>
</body>
</html>
